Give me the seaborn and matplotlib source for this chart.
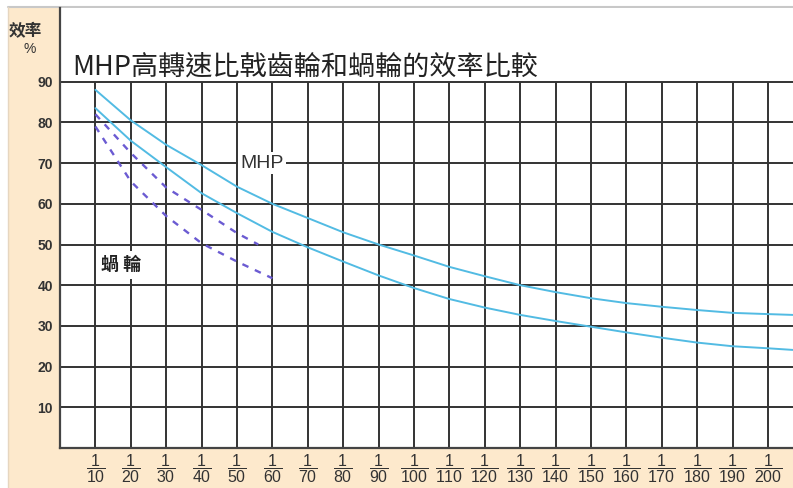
import matplotlib
matplotlib.use("Agg")
import matplotlib.pyplot as plt
from matplotlib.patches import Rectangle
from matplotlib.lines import Line2D
import seaborn as sns
import pandas as pd

# ---- data ----
ratio_x = [10, 20, 30, 40, 50, 60, 70, 80, 90, 100, 110, 120, 130, 140, 150, 160, 170, 180, 190, 200, 207]
mhp_upper = [88, 80.5, 74.5, 69.5, 64.2, 60, 56.5, 53, 50, 47.3, 44.5, 42.2, 40, 38.3, 36.8, 35.6, 34.7, 33.9, 33.2, 32.9, 32.7]
mhp_lower = [83.5, 75.5, 69, 62.6, 57.7, 53.1, 49.3, 45.8, 42.4, 39.3, 36.6, 34.5, 32.7, 31.2, 29.8, 28.4, 27.1, 25.9, 25.0, 24.5, 24.1]
worm_x_upper = [10, 20, 30, 40, 50, 56]
worm_upper = [82, 72.5, 64, 58.5, 52.8, 50]
worm_x_lower = [10, 20, 30, 40, 50, 60]
worm_lower = [79, 65.5, 57, 50.3, 45.8, 41.7]
x_ticks = list(range(10, 201, 10))
x_tick_labels = [r"$\dfrac{1}{%d}$" % v for v in x_ticks]
y_ticks = [10, 20, 30, 40, 50, 60, 70, 80, 90]
title_text = "MHP高轉速比戟齒輪和蝸輪的效率比較"
ylabel_text = "效率"
label_mhp = "MHP"
label_worm = "蝸 輪"

sns.set_theme(style="white")
plt.rcParams["font.family"] = ["Liberation Sans", "Noto Sans CJK TC", "DejaVu Sans"]
plt.rcParams["mathtext.fontset"] = "custom"
plt.rcParams["mathtext.rm"] = "Liberation Sans"
plt.rcParams["mathtext.it"] = "Liberation Sans"
plt.rcParams["mathtext.bf"] = "Liberation Sans:bold"

W, H = 793, 488
fig = plt.figure(figsize=(W / 100, H / 100), dpi=100, facecolor="white")

# beige frame behind axes
frame = Rectangle((8 / W, 0), 1 - 8 / W, 1 - 7 / H, transform=fig.transFigure,
                  facecolor="#fde9cc", edgecolor="none", zorder=-5)
fig.patches.append(frame)
fig.lines.append(Line2D([8 / W, 1], [1 - 7 / H, 1 - 7 / H], transform=fig.transFigure,
                        color="#c8c8c8", lw=1.5, zorder=-4))
fig.lines.append(Line2D([8 / W, 8 / W], [0, 1 - 7 / H], transform=fig.transFigure,
                        color="#e6d6c0", lw=1.0, zorder=-4))

left, bottom, top = 60 / W, (H - 448) / H, (H - 8) / H
ax = fig.add_axes([left, bottom, 1 - left, top - bottom])
ax.set_zorder(2)
ax.set_facecolor("white")

x_max = (W - 60) / 3.54
y_max = 440 / 40.7 * 10
ax.set_xlim(0, x_max)
ax.set_ylim(0, y_max)

grid_c = "#333333"
ax.vlines(x_ticks, 0, max(y_ticks), color=grid_c, lw=1.4, zorder=1)
ax.hlines(y_ticks, 0, x_max, color=grid_c, lw=1.4, zorder=1)

blue = "#52bbe3"
purple = "#6b5bd2"
sns.lineplot(x=ratio_x, y=mhp_upper, ax=ax, color=blue, lw=1.4, zorder=3)
sns.lineplot(x=ratio_x, y=mhp_lower, ax=ax, color=blue, lw=1.4, zorder=3)
sns.lineplot(x=worm_x_upper, y=worm_upper, ax=ax, color=purple, lw=1.7, zorder=3)
ax.lines[-1].set_dashes((2.8, 3.0))
sns.lineplot(x=worm_x_lower, y=worm_lower, ax=ax, color=purple, lw=1.7, zorder=3)
ax.lines[-1].set_dashes((2.8, 3.0))

for s in ["top", "right"]:
    ax.spines[s].set_visible(False)
for s in ["left", "bottom"]:
    ax.spines[s].set_color("#444444")
    ax.spines[s].set_linewidth(1.6)

ax.set_xticks(x_ticks)
ax.set_xticklabels(x_tick_labels, fontsize=11.5, color="#333333")
ax.set_yticks(y_ticks)
ax.set_yticklabels([str(v) for v in y_ticks], fontsize=10, color="#333333", fontweight="bold")
ax.tick_params(axis="both", length=0, pad=5)
ax.tick_params(axis="x", pad=3)

ax.text(51, 70, label_mhp, fontsize=14, color="#333333", ha="left", va="center", zorder=5,
        bbox=dict(facecolor="white", edgecolor="none", pad=1.5))
ax.text(17.3, 45, label_worm, fontsize=13, color="#222222", ha="center", va="center", zorder=5,
        family=["Noto Sans CJK TC"], fontweight="bold",
        bbox=dict(facecolor="white", edgecolor="none", pad=3))

fig.text(72 / W, 1 - 67 / H, title_text, fontsize=19.5, color="#222222", ha="left", va="center",
         family=["Noto Sans CJK TC", "DejaVu Sans"], zorder=5)
fig.text(25 / W, 1 - 31 / H, ylabel_text, fontsize=12, color="#333333", ha="center", va="center",
         family=["Noto Sans CJK TC"], fontweight="bold")
fig.text(30 / W, 1 - 49 / H, "%", fontsize=10, color="#333333", ha="center", va="center")

fig.savefig("out.png", dpi=100, facecolor="white")
